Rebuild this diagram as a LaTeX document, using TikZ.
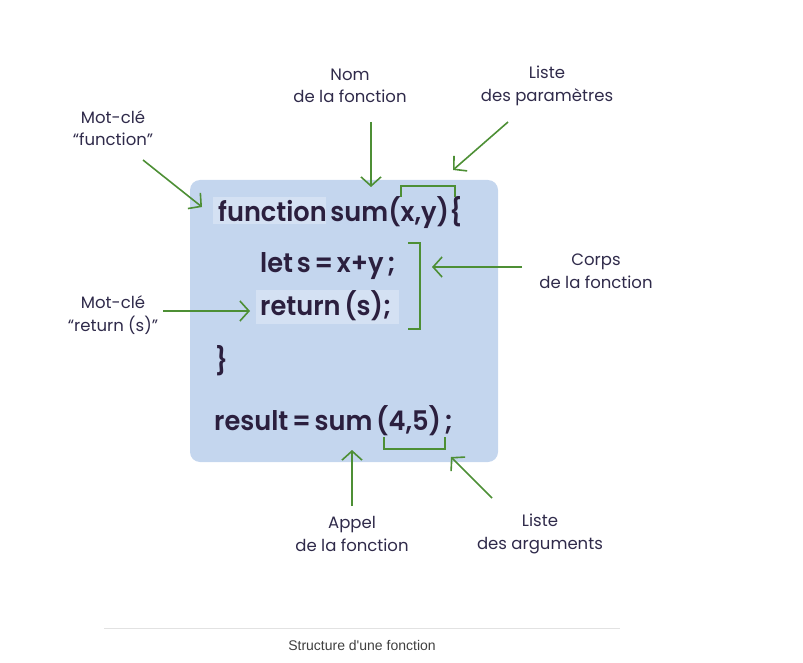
\documentclass[tikz,border=0pt]{standalone}
\usepackage{fontspec}
\setmainfont{Poppins}
\newfontfamily\codefont[FakeStretch=0.95,WordSpace=0.6]{Poppins SemiBold}
\newfontfamily\capfont{Liberation Sans}
\usepackage{tikz}
\usetikzlibrary{arrows.meta,positioning}
\definecolor{boxblue}{RGB}{196,214,238}
\definecolor{hiblue}{RGB}{212,225,243}
\definecolor{codeink}{RGB}{43,31,62}
\definecolor{labink}{RGB}{47,42,74}
\definecolor{markgreen}{RGB}{77,143,53}
\definecolor{rulegray}{RGB}{226,226,226}
\tikzset{
  codeline/.style={anchor=base west,inner sep=0pt,text=codeink,
    font=\codefont\fontsize{27}{30}\selectfont},
  lab/.style={align=center,text=labink,inner sep=0pt,
    font=\fontsize{16.5}{22.5}\selectfont},
  pointer/.style={-{Straight Barb[length=9pt,width=20pt]},line width=1.6pt,
    draw=markgreen},
  bracket/.style={line width=1.6pt,draw=markgreen}
}

\begin{document}
\begin{tikzpicture}[x=1pt,y=-1pt]
  \useasboundingbox (0,0) rectangle (803,663);

  % code panel
  \fill[boxblue,rounded corners=10pt] (190,180) rectangle (498,462);
  \fill[hiblue] (213,197) rectangle (326,224);
  \fill[hiblue] (256,290) rectangle (399,324);

  \node[codeline] (head) at (218,222) {function sum(x,y)\{};
  \node[codeline] (letline) at (260,272) {let s = x+y ;};
  \node[codeline] (retline) at (260,315) {return (s);};
  \node[codeline] (close) at (215,370) {\}};
  \node[codeline] (call) at (214,430) {result = sum (4,5) ;};

  % brackets
  \draw[bracket] (401,197) -- (401,186) -- (455,186) -- (455,197);
  \draw[bracket] (408,243) -- (420,243) -- (420,329) -- (408,329);
  \draw[bracket] (384,437) -- (384,449) -- (445,449) -- (445,437);

  % labels
  \node[lab] (kwfun) at (113,128) {Mot-clé\\``function''};
  \node[lab] (fname) at (350,86) {Nom\\de la fonction};
  \node[lab] (params) at (547,86) {Liste\\des paramètres};
  \node[lab] (body) at (596,271) {Corps\\de la fonction};
  \node[lab] (kwret) at (113,315) {Mot-clé\\``return (s)''};
  \node[lab] (appel) at (352,534) {Appel\\de la fonction};
  \node[lab] (args) at (540,534) {Liste\\des arguments};

  % pointers
  \coordinate (kwfunA) at (143,160);  \coordinate (kwfunB) at (202,207);
  \coordinate (fnameA) at (371,122);  \coordinate (fnameB) at (371,187);
  \coordinate (paramsA) at (508,122); \coordinate (paramsB) at (453,170);
  \coordinate (bodyA) at (522,267);   \coordinate (bodyB) at (432,267);
  \coordinate (kwretA) at (163,311);  \coordinate (kwretB) at (250,311);
  \coordinate (appelA) at (352,506);  \coordinate (appelB) at (352,450);
  \coordinate (argsA) at (492,498);   \coordinate (argsB) at (451,457);
  \draw[pointer] (kwfunA) -- (kwfunB);
  \draw[pointer] (fnameA) -- (fnameB);
  \draw[pointer] (paramsA) -- (paramsB);
  \draw[pointer] (bodyA) -- (bodyB);
  \draw[pointer] (kwretA) -- (kwretB);
  \draw[pointer] (appelA) -- (appelB);
  \draw[pointer] (argsA) -- (argsB);

  % caption
  \draw[rulegray,line width=0.8pt] (104,628) -- (620,628);
  \node[font=\capfont\fontsize{14}{16}\selectfont,text=black!75] (caption)
    at (362,645) {Structure d'une fonction};
\end{tikzpicture}
\end{document}
